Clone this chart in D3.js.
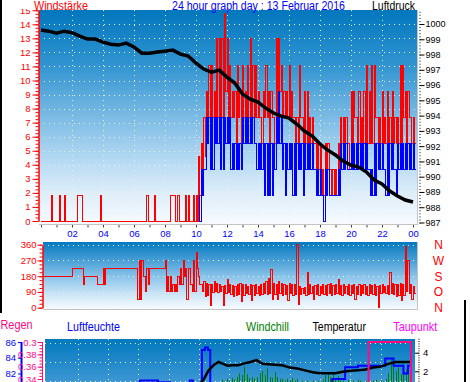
<!DOCTYPE html>
<html><head><meta charset="utf-8">
<script src="https://cdn.jsdelivr.net/npm/d3@7"></script>
<style>body{margin:0;background:#fff;}svg{display:block;font-family:"Liberation Sans",Arial,sans-serif;}</style>
</head><body><svg id="c" width="470" height="382"></svg>
<script>
// ---------------- DATA ----------------
const SLOT = 1/6; // 10-minute slots, hours
// Wind gust (Windstärke, red): per 10-min slot max / min, from 00:00
const gustHi = [
0,0,0,0,1.85,0,0,1.85,0,1.85,
0,0,0,0,1.85,1.85,0,0,0,0,
0,0,0,1.85,0,0,0,0,0,0,
0,0,0,0,0,0,0,0,0,0,
0,1.85,0,0,1.85,0,0,0,0,0,
1.85,1.85,0,1.85,0,0,1.85,1.85,0,1.85,
1.85,4.6,5.5,7.4,9.25,11.1,11.1,9.25,13,13,
13,14.8,13,11.1,9.25,9.25,11.1,9.25,11.1,9.25,
11.1,13,11.1,11.1,9.25,7.4,9.25,11.1,9.25,9.25,
7.4,13,13,11.1,9.25,9.25,11.1,9.25,7.4,7.4,
11.1,7.4,9.25,9.25,7.4,7.4,5.5,5.5,5.5,3.7,
5.5,5.5,3.7,3.7,3.7,5.5,7.4,7.4,7.4,5.5,
9.25,9.25,7.4,9.25,7.4,9.25,11.1,9.25,11.1,11.1,
7.4,7.4,9.25,7.4,9.25,7.4,9.25,7.4,7.4,11.1,
11.1,9.25,9.25,7.4,7.4];
const gustLo = [
0,0,0,0,0,0,0,0,0,0,
0,0,0,0,1.85,1.85,0,0,0,0,
0,0,0,0,0,0,0,0,0,0,
0,0,0,0,0,0,0,0,0,0,
0,0,0,0,0,0,0,0,0,0,
1.85,1.85,0,0,0,0,0,0,0,0,
0,1.85,3.7,4.6,7.4,7.4,7.4,7.4,7.4,7.4,
7.4,9.25,7.4,7.4,7.4,5.5,7.4,5.5,7.4,7.4,
7.4,7.4,7.4,7.4,7.4,5.5,7.4,7.4,5.5,7.4,
5.5,7.4,9.25,7.4,7.4,7.4,7.4,7.4,5.5,5.5,
7.4,5.5,5.5,5.5,5.5,5.5,3.7,3.7,1.85,1.85,
3.7,3.7,1.85,1.85,1.85,3.7,5.5,5.5,5.5,3.7,
5.5,7.4,5.5,5.5,5.5,5.5,5.5,5.5,5.5,7.4,
5.5,5.5,5.5,5.5,5.5,5.5,5.5,5.5,5.5,5.5,
7.4,5.5,7.4,5.5,5.5];
// Mean wind (blue), starts at slot 61 (10:10)
const windStartSlot = 61;
const windHi = [
1.85,3.7,3.7,7.4,7.4,7.4,7.4,7.4,7.4,7.4,
7.4,7.4,7.4,5.5,5.5,5.5,5.5,7.4,7.4,7.4,
7.4,7.4,5.5,5.5,5.5,5.5,5.5,5.5,5.5,5.5,
7.4,9.25,7.4,5.5,5.5,5.5,5.5,5.5,5.5,5.5,
5.5,5.5,5.5,5.5,5.5,3.7,3.7,3.7,1.85,3.7,
3.7,1.85,1.85,1.85,3.7,5.5,5.5,5.5,3.7,5.5,
5.5,5.5,5.5,5.5,5.5,5.5,3.7,3.7,5.5,5.5,
5.5,5.5,3.7,5.5,5.5,5.5,3.7,5.5,5.5,5.5,
5.5,5.5,5.5,5.5];
const windLo = [
0,1.85,3.7,5.5,3.7,3.7,5.5,5.5,3.7,3.7,
5.5,5.5,3.7,3.7,3.7,3.7,3.7,5.5,5.5,5.5,
5.5,5.5,3.7,3.7,3.7,1.85,1.85,1.85,1.85,3.7,
5.5,5.5,3.7,1.85,3.7,3.7,1.85,1.85,3.7,3.7,
1.85,3.7,3.7,3.7,3.7,1.85,1.85,1.85,0,1.85,
1.85,1.85,1.85,1.85,1.85,3.7,3.7,3.7,3.7,3.7,
3.7,3.7,3.7,3.7,3.7,3.7,1.85,1.85,1.85,3.7,
3.7,3.7,1.85,1.85,3.7,3.7,1.85,3.7,3.7,3.7,
3.7,3.7,3.7,3.7];
// Luftdruck (hPa) every 30 minutes 00:00 .. 24:00
const pressTimes = [0,0.5,1,1.5,2,2.5,3,3.5,4,4.5,5,5.5,6,6.5,7,7.5,8,8.5,9,9.5,10,10.5,11,11.5,12,12.5,13,13.5,14,14.5,15,15.5,16,16.5,17,17.5,18,18.5,19,19.5,20,20.5,21,21.5,22,22.5,23,23.5,24];
const pressure = [999.60,999.53,999.40,999.53,999.43,999.21,999.01,999.01,998.81,998.68,998.62,998.75,998.49,998.09,998.09,998.16,998.22,998.29,998.03,997.90,997.44,997.05,996.85,996.98,996.52,996.13,995.41,995.08,994.89,994.49,994.17,993.97,993.84,993.45,992.99,992.66,992.14,991.74,991.42,991.02,990.76,990.63,990.30,989.78,989.52,989.06,988.73,988.47,988.34];
// Wind direction (degrees) per 10-min slot max / min
const dirHi = [
180,180,180,180,180,180,180,180,180,180,
180,180,225,225,225,225,225,180,180,180,
180,180,135,135,225,225,225,225,225,225,
225,225,225,225,225,225,225,225,270,270,
180,225,225,225,225,225,225,225,270,180,
180,135,135,180,225,270,225,225,135,270,
315,180,135,150,140,130,130,150,140,130,
120,125,160,130,125,120,130,140,130,135,
120,130,125,130,120,135,140,150,165,220,
140,130,150,140,130,125,140,130,135,360,
120,110,115,200,130,120,125,130,120,135,
125,130,140,125,130,160,125,130,120,135,
125,130,120,135,125,130,120,130,125,135,
120,125,130,120,125,200,140,130,135,140,
130,350,270,130,120];
const dirLo = [
180,180,180,180,180,180,180,180,180,180,
180,180,225,225,225,225,135,180,180,180,
180,180,135,135,135,225,225,225,225,225,
225,225,225,225,225,225,225,45,45,180,
90,135,225,225,225,225,225,225,90,90,
90,90,90,135,135,180,45,225,90,90,
225,135,90,65,70,15,85,90,85,90,
10,80,85,75,65,70,75,35,70,80,
75,40,70,80,70,75,80,75,80,45,
75,45,80,70,75,40,80,70,75,20,
75,80,70,75,80,45,75,70,80,75,
70,80,70,75,80,75,70,80,75,70,
80,45,75,70,80,75,70,80,75,70,
0,80,85,80,75,80,75,65,70,40,
70,90,80,45,80];
// Temperatur (°C)
const tempT = [10.0,10.3,10.6,10.75,11.0,11.3,11.6,11.9,12.2,12.6,13.0,13.4,13.8,14.2,14.6,15.0,15.5,16.0,16.5,17.0,17.5,18.0,18.5,19.0,19.5,20.0,20.5,21.0,21.5,22.0,22.5,23.0,23.5,24.0];
const tempV = [0.6,1.06,2.0,2.3,2.7,3.0,2.8,2.6,2.65,2.65,2.85,3.0,3.2,2.8,2.75,2.7,2.65,2.4,2.3,2.1,1.9,1.8,1.8,1.8,1.95,2.05,2.1,2.2,2.4,2.5,2.8,3.0,3.0,3.0];
// Luftfeuchte (%), step series
const humT = [0,6.1,7.3,8.1,9.4,9.6,10.2,10.4,10.6,10.75,18.8,19.65,20.5,22.3,22.85,23.5,23.8,24.0];
const humV = [80.5,81.1,80.9,80.5,81.1,80.5,85.0,85.3,85.0,80.5,81.3,82.8,83.0,83.9,83.0,82.0,83.0,83.0];
// Windchill per 10-min slot from slot 60 (10:00)
const wcStartSlot = 60;
const windchill = [0.5,0.5,0.5,0.5,0.5,0.5,0.5,0.5,0.5,
1.1,0.9,1.2,1.0,1.3,1.1,
1.4,1.8,1.6,2.5,1.7,1.3,
1.4,1.2,1.4,
1.8,2.0,1.6,2.3,
1.4,1.3,1.9,1.4,1.2,
1.2,1.0,1.2,1.1,1.3,1.0,1.2,
0.9,1.0,0.8,1.0,0.9,1.0,0.8,1.0,0.9,1.1,
1.6,1.9,1.4,1.7,1.2,1.5,1.0,
1.0,0.9,1.1,0.8,1.0,0.9,1.1,1.0,0.8,1.0,1.2,0.9,1.0,1.1,0.8,1.0,0.9,1.2,
1.8,3.4,2.6,2.0,2.4,1.7,2.8,2.2,1.9];
// Regen (mm)
const rainStart = [21.2], rainEnd = [24.0], rainVal = [0.40];
// Ticks / labels
const windTicks = [0,1,2,3,4,5,6,7,8,9,10,11,12,13,14,15];
const pressTicks = [987,988,989,990,991,992,993,994,995,996,997,998,999,1000];
const hourTicks = [0,1,2,3,4,5,6,7,8,9,10,11,12,13,14,15,16,17,18,19,20,21,22,23,24];
const labelHours = [2,4,6,8,10,12,14,16,18,20,22,24];
const hourLabels = ["02","04","06","08","10","12","14","16","18","20","22","00"];
const dirTicks = [0,90,180,270,360];
const compass = ["N","W","S","O","N"];
const compassDeg = [360,270,180,90,0];
const humTicks = [82,84,86];
const rainTicks = [0.34,0.36,0.38,0.40];
const rainTickLabels = ["0.34","0.36","0.38","0.3"];
const tempTicks = [2,4];
const tempGrid = [1,3,5];

// ---------------- DRAW ----------------
const FONT = "Liberation Sans, Arial, sans-serif";
const fmtInt = d3.format("d");
const svg = d3.select("#c");
const defs = svg.append("defs");
function grad(id, stops){
  const g = defs.append("linearGradient").attr("id",id).attr("x1",0).attr("y1",0).attr("x2",0).attr("y2",1);
  stops.forEach(s=>g.append("stop").attr("offset",s[0]).attr("stop-color",s[1]));
}
function clip(id,p){ defs.append("clipPath").attr("id",id).append("rect").attr("x",p.l).attr("y",p.t).attr("width",p.r-p.l).attr("height",p.b-p.t); }
grad("bg1",[[0,"#0277bd"],[0.25,"#2f93d0"],[0.5,"#7bbbe4"],[0.7,"#b4d9f2"],[0.85,"#dcedf9"],[1,"#f7fbff"]]);
grad("bg2",[[0,"#0479bf"],[0.3,"#4fa3d8"],[0.55,"#93c8ec"],[0.8,"#d0e7f7"],[1,"#f8fbff"]]);
grad("bg3",[[0,"#0279bf"],[1,"#3d97d3"]]);

const P1={l:39,r:417,t:10,b:224}, P2={l:43,r:417,t:242,b:309}, P3={l:45,r:415,t:339,b:382};
clip("c1",P1); clip("c2",P2); clip("c3",P3);

const x1 = d3.scaleLinear().domain([0,24]).range([41,413]);
const yW = d3.scaleLinear().domain([0,15]).range([221,10.25]);
const yP = d3.scaleLinear().domain([987,1000]).range([222.5,24]);
const yD = d3.scaleLinear().domain([0,360]).range([307.7,244.7]);
const x3 = d3.scaleLinear().domain([0,24]).range([47.4,411]);
const yT = d3.scaleLinear().domain([2,4]).range([371.3,352.7]);
const yH = d3.scaleLinear().domain([82,86]).range([373.5,342]);
const yR = d3.scaleLinear().domain([0.34,0.40]).range([379,342]);

function zigzag(hi, lo, start){
  const pts=[];
  hi.forEach((v,i)=>{ const t=(start+i)*SLOT; pts.push([t,v]); pts.push([t+SLOT/2,lo[i]]); });
  pts.push([(start+hi.length)*SLOT, lo[lo.length-1]]);
  return pts;
}
function styleAxis(g,color,fs){
  g.attr("font-family",FONT).attr("font-size",fs);
  g.selectAll("path.domain").attr("stroke",color);
  g.selectAll(".tick line").attr("stroke",color);
  g.selectAll(".tick text").attr("fill",color);
  return g;
}
const dotted = "1,4", gridCol = "#e9eef3";

// ===== Panel 1 =====
svg.append("rect").attr("x",P1.l).attr("y",P1.t).attr("width",P1.r-P1.l).attr("height",P1.b-P1.t).attr("fill","url(#bg1)");
const gr1 = svg.append("g").attr("stroke",gridCol).attr("stroke-dasharray",dotted).attr("shape-rendering","crispEdges");
windTicks.filter(v=>v>0&&v<15).forEach(v=>gr1.append("line").attr("x1",P1.l).attr("x2",P1.r).attr("y1",Math.round(yW(v))+0.5).attr("y2",Math.round(yW(v))+0.5));
labelHours.filter(h=>h<24).forEach(h=>gr1.append("line").attr("y1",P1.t).attr("y2",P1.b).attr("x1",Math.round(x1(h))+0.5).attr("x2",Math.round(x1(h))+0.5));
const d1 = svg.append("g").attr("clip-path","url(#c1)");
const stepLine = (xs,ys)=>d3.line().x(d=>xs(d[0])).y(d=>ys(d[1])).curve(d3.curveStepAfter);
d1.append("path").attr("d",stepLine(x1,yW)(zigzag(gustHi,gustLo,0))).attr("fill","none").attr("stroke","#ff0000").attr("stroke-width",1).attr("shape-rendering","crispEdges");
d1.append("path").attr("d",stepLine(x1,yW)(zigzag(windHi,windLo,windStartSlot))).attr("fill","none").attr("stroke","#0000ff").attr("stroke-width",1).attr("shape-rendering","crispEdges");
d1.append("path").attr("d",d3.line().x((d,i)=>x1(pressTimes[i])).y(d=>yP(d))(pressure)).attr("fill","none").attr("stroke","#000").attr("stroke-width",3.5).attr("stroke-linejoin","miter");
// axes P1
styleAxis(svg.append("g").attr("transform","translate(38.5,0)").call(d3.axisLeft(yW).tickValues(d3.range(0,15.001,0.25)).tickSize(3).tickSizeOuter(0).tickFormat("")),"#ff0000",9.5);
styleAxis(svg.append("g").attr("transform","translate(38.5,0)").call(d3.axisLeft(yW).tickValues(windTicks).tickSize(6).tickSizeOuter(0).tickPadding(2).tickFormat(fmtInt)),"#ff0000",9.5);
const ra = styleAxis(svg.append("g").attr("transform","translate(419.5,0)").call(d3.axisRight(yP).tickValues(d3.range(987,1000.9,0.2)).tickSize(1).tickSizeOuter(0).tickFormat("")),"#000",9);
ra.select("path.domain").attr("stroke","none");
const rb = styleAxis(svg.append("g").attr("transform","translate(419.5,0)").call(d3.axisRight(yP).tickValues(pressTicks).tickSize(5).tickSizeOuter(0).tickPadding(1).tickFormat(fmtInt)),"#000",9);
rb.select("path.domain").attr("stroke","none");
const ba = styleAxis(svg.append("g").attr("transform","translate(0,224.5)").call(d3.axisBottom(x1).tickValues(hourTicks).tickSize(3).tickSizeOuter(0).tickFormat("")),"#404040",9);
ba.select("path.domain").attr("stroke","none");
const bl = styleAxis(svg.append("g").attr("transform","translate(0,224.5)").call(d3.axisBottom(x1).tickValues(labelHours).tickSize(0).tickPadding(6).tickFormat((d,i)=>hourLabels[i])),"#0000ff",9.5);
bl.select("path.domain").attr("stroke","none");
// panel borders
const bord = svg.append("g").attr("stroke","#c4c4c4").attr("shape-rendering","crispEdges");
bord.append("line").attr("x1",P1.l).attr("x2",P1.r+1).attr("y1",P1.b+0.5).attr("y2",P1.b+0.5);
bord.append("line").attr("x1",P1.r+0.5).attr("x2",P1.r+0.5).attr("y1",P1.t).attr("y2",P1.b);

// ===== Panel 2 =====
svg.append("rect").attr("x",P2.l).attr("y",P2.t).attr("width",P2.r-P2.l).attr("height",P2.b-P2.t).attr("fill","url(#bg2)");
const gr2 = svg.append("g").attr("stroke",gridCol).attr("stroke-dasharray",dotted).attr("shape-rendering","crispEdges");
dirTicks.forEach(v=>gr2.append("line").attr("x1",P2.l).attr("x2",P2.r).attr("y1",Math.round(yD(v))+0.5).attr("y2",Math.round(yD(v))+0.5));
const d2 = svg.append("g").attr("clip-path","url(#c2)");
d2.append("path").attr("d",stepLine(x1,yD)(zigzag(dirHi,dirLo,0))).attr("fill","none").attr("stroke","#ff0000").attr("stroke-width",1).attr("shape-rendering","crispEdges");
styleAxis(svg.append("g").attr("transform","translate(42.5,0)").call(d3.axisLeft(yD).tickValues(d3.range(0,360.1,22.5)).tickSize(3).tickSizeOuter(0).tickFormat("")),"#ff0000",9.5);
styleAxis(svg.append("g").attr("transform","translate(42.5,0)").call(d3.axisLeft(yD).tickValues(dirTicks).tickSize(5).tickSizeOuter(0).tickPadding(1).tickFormat(fmtInt)),"#ff0000",9.5);
svg.append("g").selectAll("text").data(compass).join("text").attr("x",438.5).attr("y",(d,i)=>yD(compassDeg[i])+4.5)
  .attr("text-anchor","middle").attr("fill","#ff0000").attr("font-size",12).attr("font-family",FONT).text(d=>d);
bord.append("line").attr("x1",P2.l).attr("x2",P2.r+1).attr("y1",P2.b+0.5).attr("y2",P2.b+0.5);
bord.append("line").attr("x1",P2.r+0.5).attr("x2",P2.r+0.5).attr("y1",P2.t).attr("y2",P2.b);

// ===== Panel 3 =====
svg.append("rect").attr("x",P3.l).attr("y",P3.t).attr("width",P3.r-P3.l).attr("height",P3.b-P3.t).attr("fill","url(#bg3)");
const gr3 = svg.append("g").attr("stroke",gridCol).attr("stroke-dasharray",dotted).attr("shape-rendering","crispEdges");
tempGrid.forEach(v=>gr3.append("line").attr("x1",P3.l).attr("x2",P3.r).attr("y1",Math.round(yT(v))+0.5).attr("y2",Math.round(yT(v))+0.5));
labelHours.filter(h=>h<24).forEach(h=>gr3.append("line").attr("y1",P3.t).attr("y2",P3.b).attr("x1",Math.round(x3(h))+0.5).attr("x2",Math.round(x3(h))+0.5));
const d3g = svg.append("g").attr("clip-path","url(#c3)");
d3g.append("g").selectAll("rect").data(windchill).join("rect")
  .attr("x",(d,i)=>Math.round(x3((wcStartSlot+i)*SLOT))).attr("width",1)
  .attr("y",d=>yT(d)).attr("height",d=>Math.max(0,P3.b-yT(d))).attr("fill","#008000");
d3g.append("path").attr("d",d3.line().x((d,i)=>x3(humT[i])).y(d=>yH(d)).curve(d3.curveStepAfter)(humV)).attr("fill","none").attr("stroke","#0000ff").attr("stroke-width",2);
d3g.append("path").attr("d",d3.line().x((d,i)=>x3(tempT[i])).y(d=>yT(d))(tempV)).attr("fill","none").attr("stroke","#000").attr("stroke-width",2.5);
d3g.append("g").selectAll("rect").data(rainVal).join("rect")
  .attr("x",(d,i)=>x3(rainStart[i])).attr("width",(d,i)=>x3(rainEnd[i])-x3(rainStart[i]))
  .attr("y",d=>yR(d)).attr("height",d=>yR(0)-yR(d)).attr("fill","none").attr("stroke","#ff0a84").attr("stroke-width",2);
// axes P3
svg.append("line").attr("x1",21.5).attr("x2",21.5).attr("y1",yH(86)).attr("y2",P3.b).attr("stroke","#0000ff").attr("stroke-width",2);
const ha = styleAxis(svg.append("g").attr("transform","translate(21,0)").call(d3.axisLeft(yH).tickValues(humTicks).tickSize(3).tickSizeOuter(0).tickPadding(2).tickFormat(fmtInt)),"#0000ff",9.5);
ha.select("path.domain").attr("stroke","none");
svg.append("line").attr("x1",42.5).attr("x2",42.5).attr("y1",yR(0.40)).attr("y2",P3.b).attr("stroke","#ff0a84");
const rm = styleAxis(svg.append("g").attr("transform","translate(42.5,0)").call(d3.axisLeft(yR).tickValues(d3.range(0.33,0.4001,0.005)).tickSize(3).tickSizeOuter(0).tickFormat("")),"#ff0a84",9.5);
rm.select("path.domain").attr("stroke","none");
const rt = styleAxis(svg.append("g").attr("transform","translate(42.5,0)").call(d3.axisLeft(yR).tickValues(rainTicks).tickSize(5).tickSizeOuter(0).tickPadding(1).tickFormat((d,i)=>rainTickLabels[i])),"#ff0a84",9.5);
rt.select("path.domain").attr("stroke","none");
const tm = styleAxis(svg.append("g").attr("transform","translate(418.5,0)").call(d3.axisRight(yT).tickValues(d3.range(0,5.51,0.25)).tickSize(1).tickSizeOuter(0).tickFormat("")),"#000",9.5);
tm.select("path.domain").attr("stroke","none");
const tt = styleAxis(svg.append("g").attr("transform","translate(415,0)").call(d3.axisRight(yT).tickValues(tempTicks).tickSize(4).tickSizeOuter(0).tickPadding(4).tickFormat(fmtInt)),"#000",9.5);
tt.select("path.domain").attr("stroke","none");

// ===== Titles =====
svg.append("rect").attr("x",2).attr("y",0).attr("width",37).attr("height",9).attr("fill","#fff");
const titles = [
  {t:"Windstärke", x:34, y:10, w:54, c:"#ff0000"},
  {t:"24 hour graph day : 13 Februar 2016", x:172, y:10, w:173, c:"#0000ff"},
  {t:"Luftdruck", x:372, y:10, w:43, c:"#000000"},
  {t:"Regen", x:0.5, y:329, w:32, c:"#ff0a84"},
  {t:"Luftfeuchte", x:67, y:330.5, w:53, c:"#0000ff"},
  {t:"Windchill", x:246, y:330.5, w:43, c:"#008000"},
  {t:"Temperatur", x:312.5, y:330.5, w:53.5, c:"#000000"},
  {t:"Taupunkt", x:393.3, y:330.5, w:44, c:"#ff00ff"}
];
svg.append("g").selectAll("text").data(titles).join("text")
  .attr("x",d=>d.x).attr("y",d=>d.y).attr("fill",d=>d.c).attr("font-size",12).attr("font-family",FONT)
  .attr("textLength",d=>d.w).attr("lengthAdjust","spacingAndGlyphs").text(d=>d.t);

// outer black edges
svg.append("rect").attr("x",0).attr("y",0).attr("width",2).attr("height",313).attr("fill","#000");
svg.append("rect").attr("x",464).attr("y",300).attr("width",2).attr("height",82).attr("fill","#000");
</script></body></html>
